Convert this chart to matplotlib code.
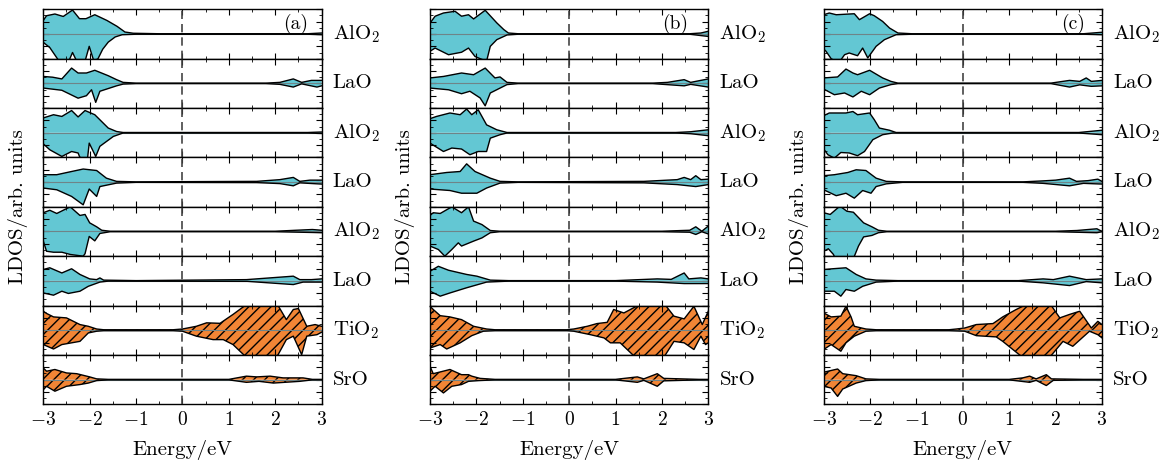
import matplotlib
matplotlib.use("Agg")
import matplotlib.pyplot as plt
from matplotlib.ticker import MultipleLocator

plt.rcParams["font.family"] = "serif"
plt.rcParams["font.serif"] = ["cmr10"]
plt.rcParams["mathtext.fontset"] = "cm"
plt.rcParams["axes.formatter.use_mathtext"] = True
plt.rcParams["hatch.linewidth"] = 1.0

# ---- layer labels (top -> bottom) and panel tags -------------------------
LAYERS = ["AlO$_2$", "LaO", "AlO$_2$", "LaO", "AlO$_2$", "LaO", "TiO$_2$", "SrO"]
PANELS = ["(a)", "(b)", "(c)"]

# ---- LDOS curves: (energy eV, value), spin up and spin down (magnitude) --
# panel (a)
a1_up = [(-3.0, 0.55), (-2.93, 0.74), (-2.75, 0.81), (-2.57, 0.71), (-2.37, 0.97), (-2.22, 0.62), (-2.08, 0.62), (-1.89, 0.78), (-1.63, 0.55), (-1.41, 0.31), (-1.24, 0.08), (-1.06, 0.03), (-0.5, 0.01), (2.7, 0.01), (3.0, 0.04)]
a1_dn = [(-3.0, 0.34), (-2.86, 0.55), (-2.66, 1.1), (-2.45, 1.1), (-2.37, 0.75), (-2.28, 1.1), (-2.1, 1.1), (-2.01, 0.5), (-1.91, 1.1), (-1.82, 1.0), (-1.72, 0.62), (-1.6, 0.33), (-1.45, 0.12), (-1.3, 0.03), (-1.0, 0.01), (2.7, 0.01), (3.0, 0.03)]
a2_up = [(-3.0, 0.28), (-2.8, 0.25), (-2.6, 0.18), (-2.39, 0.62), (-2.25, 0.42), (-2.07, 0.42), (-1.89, 0.53), (-1.6, 0.31), (-1.42, 0.15), (-1.28, 0.04), (-1.0, 0.01), (1.8, 0.01), (2.1, 0.04), (2.39, 0.18), (2.57, 0.04), (2.78, 0.12), (3.0, 0.12)]
a2_dn = [(-3.0, 0.19), (-2.6, 0.28), (-2.25, 0.6), (-2.07, 0.5), (-1.96, 0.26), (-1.87, 0.77), (-1.78, 0.32), (-1.42, 0.1), (-1.28, 0.03), (-1.0, 0.01), (1.8, 0.01), (2.1, 0.04), (2.39, 0.15), (2.57, 0.02), (2.9, 0.15), (3.0, 0.1)]
a3_up = [(-3.0, 0.6), (-2.78, 0.73), (-2.6, 0.66), (-2.39, 0.9), (-2.25, 0.64), (-2.1, 0.9), (-1.89, 0.73), (-1.6, 0.19), (-1.42, 0.05), (-1.28, 0.01), (2.7, 0.01), (3.0, 0.03)]
a3_dn = [(-3.0, 0.45), (-2.86, 0.69), (-2.6, 0.96), (-2.39, 0.76), (-2.25, 0.82), (-2.22, 0.96), (-2.17, 1.1), (-2.05, 1.1), (-2.01, 0.42), (-1.87, 0.96), (-1.78, 0.55), (-1.49, 0.15), (-1.28, 0.01), (2.7, 0.01), (3.0, 0.03)]
a4_up = [(-3.0, 0.3), (-2.71, 0.3), (-2.39, 0.43), (-2.14, 0.53), (-1.85, 0.47), (-1.64, 0.16), (-1.42, 0.03), (-1.0, 0.01), (1.6, 0.03), (2.1, 0.1), (2.39, 0.19), (2.53, 0.03), (2.75, 0.08), (3.0, 0.08)]
a4_dn = [(-3.0, 0.24), (-2.71, 0.31), (-2.39, 0.58), (-2.14, 0.92), (-2.01, 0.28), (-1.85, 0.58), (-1.78, 0.18), (-1.42, 0.04), (-1.0, 0.01), (1.6, 0.02), (2.1, 0.06), (2.39, 0.15), (2.53, 0.03), (3.0, 0.08)]
a5_up = [(-3.0, 0.76), (-2.86, 0.86), (-2.71, 0.73), (-2.42, 1.0), (-2.21, 0.65), (-2.1, 0.69), (-2.0, 0.35), (-1.85, 0.19), (-1.74, 0.05), (-1.56, 0.01), (2.0, 0.01), (2.45, 0.05), (2.8, 0.08), (3.0, 0.05)]
a5_dn = [(-3.0, 0.39), (-2.93, 0.8), (-2.78, 0.84), (-2.6, 0.84), (-2.42, 0.93), (-2.14, 1.0), (-2.1, 0.9), (-2.01, 0.2), (-1.89, 0.38), (-1.78, 0.08), (-1.56, 0.01), (2.0, 0.01), (2.8, 0.04), (3.0, 0.05)]
a6_up = [(-3.0, 0.46), (-2.86, 0.53), (-2.6, 0.32), (-2.39, 0.49), (-2.21, 0.26), (-2.0, 0.08), (-1.85, 0.05), (-1.78, 0.12), (-1.7, 0.03), (-1.0, 0.01), (1.38, 0.05), (2.39, 0.19), (2.53, 0.05), (2.78, 0.05), (3.0, 0.08)]
a6_dn = [(-3.0, 0.49), (-2.78, 0.58), (-2.6, 0.42), (-2.46, 0.51), (-2.21, 0.42), (-2.03, 0.22), (-1.78, 0.05), (-1.6, 0.01), (1.4, 0.02), (2.39, 0.15), (2.6, 0.05), (3.0, 0.05)]
a7_up = [(-3.0, 0.77), (-2.93, 0.68), (-2.78, 0.54), (-2.5, 0.5), (-2.21, 0.23), (-2.03, 0.16), (-1.85, 0.05), (-1.7, 0.02), (-0.2, 0.02), (0.0, 0.05), (0.3, 0.16), (0.52, 0.3), (0.81, 0.28), (1.09, 0.64), (1.35, 1.0), (1.6, 1.1), (2.03, 1.1), (2.24, 0.43), (2.39, 0.84), (2.5, 0.88), (2.68, 0.16), (2.86, 0.23), (3.0, 0.16)]
a7_dn = [(-3.0, 0.58), (-2.78, 0.76), (-2.6, 0.58), (-2.21, 0.45), (-2.03, 0.11), (-1.85, 0.04), (-1.7, 0.02), (-0.2, 0.02), (0.0, 0.04), (0.3, 0.24), (0.66, 0.38), (0.88, 0.38), (1.09, 0.58), (1.38, 1.1), (2.03, 1.1), (2.24, 0.38), (2.39, 0.24), (2.57, 0.99), (2.68, 0.24), (2.9, 0.18), (3.0, 0.08)]
a8_up = [(-3.0, 0.47), (-2.93, 0.34), (-2.75, 0.41), (-2.5, 0.27), (-2.28, 0.24), (-2.0, 0.11), (-1.85, 0.03), (-1.6, 0.01), (1.0, 0.01), (1.38, 0.14), (1.6, 0.11), (1.89, 0.14), (2.17, 0.07), (2.6, 0.07), (2.8, 0.01), (3.0, 0.01)]
a8_dn = [(-3.0, 0.41), (-2.93, 0.27), (-2.75, 0.47), (-2.5, 0.27), (-2.21, 0.2), (-2.03, 0.14), (-1.85, 0.04), (-1.6, 0.01), (1.0, 0.01), (1.38, 0.11), (1.65, 0.07), (1.96, 0.14), (2.53, 0.07), (2.8, 0.01), (3.0, 0.01)]

# panel (b)
b1_up = [(-3.0, 0.44), (-2.89, 0.72), (-2.71, 0.85), (-2.46, 0.92), (-2.32, 0.72), (-2.17, 0.78), (-2.06, 0.61), (-1.81, 0.96), (-1.56, 0.45), (-1.41, 0.18), (-1.31, 0.04), (-1.1, 0.01), (2.6, 0.01), (2.84, 0.04), (3.0, 0.11)]
b1_dn = [(-3.0, 0.7), (-2.89, 0.57), (-2.6, 0.84), (-2.32, 0.74), (-2.17, 0.57), (-2.03, 0.91), (-1.92, 1.0), (-1.78, 1.1), (-1.7, 0.5), (-1.56, 0.23), (-1.34, 0.04), (-1.1, 0.01), (2.6, 0.01), (3.0, 0.1)]
b2_up = [(-3.0, 0.22), (-2.71, 0.28), (-2.32, 0.42), (-2.06, 0.35), (-1.81, 0.62), (-1.6, 0.22), (-1.49, 0.26), (-1.34, 0.04), (-1.1, 0.01), (1.8, 0.01), (2.12, 0.04), (2.48, 0.15), (2.62, 0.04), (3.0, 0.18)]
b2_dn = [(-3.0, 0.19), (-2.6, 0.26), (-2.32, 0.42), (-2.14, 0.32), (-1.92, 0.59), (-1.81, 0.91), (-1.7, 0.39), (-1.34, 0.05), (-1.1, 0.01), (1.8, 0.01), (2.48, 0.1), (2.62, 0.04), (3.0, 0.15)]
b3_up = [(-3.0, 0.57), (-2.86, 0.66), (-2.57, 0.8), (-2.35, 0.73), (-2.21, 0.96), (-2.1, 0.73), (-1.96, 0.93), (-1.78, 0.32), (-1.56, 0.12), (-1.34, 0.01), (2.3, 0.01), (2.62, 0.04), (3.0, 0.12)]
b3_dn = [(-3.0, 0.42), (-2.71, 0.76), (-2.53, 0.62), (-2.32, 0.66), (-2.14, 0.89), (-1.96, 0.76), (-1.78, 0.76), (-1.7, 0.22), (-1.49, 0.08), (-1.34, 0.01), (2.3, 0.01), (2.62, 0.04), (3.0, 0.12)]
b4_up = [(-3.0, 0.3), (-2.64, 0.39), (-2.35, 0.43), (-2.21, 0.74), (-2.03, 0.43), (-1.7, 0.16), (-1.49, 0.03), (-1.1, 0.01), (1.61, 0.03), (2.33, 0.1), (2.48, 0.19), (2.62, 0.1), (2.73, 0.26), (2.84, 0.1), (3.0, 0.12)]
b4_dn = [(-3.0, 0.28), (-2.57, 0.34), (-2.32, 0.45), (-1.99, 0.45), (-1.78, 0.24), (-1.49, 0.04), (-1.1, 0.01), (1.61, 0.03), (2.33, 0.1), (2.73, 0.18), (3.0, 0.1)]
b5_up = [(-3.0, 0.65), (-2.93, 0.76), (-2.78, 0.73), (-2.53, 1.0), (-2.32, 0.76), (-2.17, 1.0), (-2.06, 0.42), (-1.88, 0.28), (-1.7, 0.04), (-1.5, 0.01), (2.0, 0.01), (2.44, 0.04), (2.6, 0.05), (2.73, 0.19), (2.86, 0.01), (3.0, 0.22)]
b5_dn = [(-3.0, 0.59), (-2.82, 0.73), (-2.68, 1.0), (-2.53, 0.73), (-2.39, 0.46), (-2.32, 0.59), (-2.06, 0.39), (-1.88, 0.26), (-1.7, 0.05), (-1.5, 0.01), (2.0, 0.01), (2.6, 0.03), (2.73, 0.12), (2.86, 0.01), (3.0, 0.1)]
b6_up = [(-3.0, 0.39), (-2.82, 0.59), (-2.6, 0.43), (-2.21, 0.26), (-1.99, 0.19), (-1.7, 0.03), (-1.3, 0.01), (1.0, 0.01), (1.9, 0.08), (2.2, 0.06), (2.48, 0.32), (2.58, 0.08), (2.84, 0.12), (3.0, 0.08)]
b6_dn = [(-3.0, 0.42), (-2.78, 0.62), (-2.57, 0.49), (-2.21, 0.28), (-1.78, 0.05), (-1.3, 0.01), (1.0, 0.01), (1.9, 0.05), (2.48, 0.11), (3.0, 0.11)]
b7_up = [(-3.0, 0.97), (-2.93, 0.84), (-2.78, 0.59), (-2.57, 0.54), (-2.32, 0.43), (-2.06, 0.16), (-1.78, 0.05), (-1.6, 0.02), (-0.05, 0.02), (0.1, 0.05), (0.39, 0.16), (0.6, 0.27), (0.82, 0.32), (0.96, 0.84), (1.18, 0.7), (1.43, 0.95), (1.61, 1.1), (2.04, 1.1), (2.26, 0.57), (2.48, 0.46), (2.69, 0.97), (2.87, 0.23), (3.0, 0.77)]
b7_dn = [(-3.0, 0.72), (-2.78, 0.58), (-2.64, 0.76), (-2.35, 0.51), (-2.1, 0.22), (-1.85, 0.04), (-1.6, 0.02), (-0.05, 0.02), (0.1, 0.04), (0.46, 0.18), (0.75, 0.31), (0.89, 0.51), (1.1, 0.51), (1.43, 1.1), (2.04, 1.1), (2.26, 0.45), (2.48, 0.51), (2.69, 0.78), (2.84, 0.24), (2.94, 0.58), (3.0, 0.51)]
b8_up = [(-3.0, 0.54), (-2.93, 0.24), (-2.57, 0.41), (-2.32, 0.2), (-2.17, 0.2), (-2.1, 0.14), (-1.92, 0.05), (-1.6, 0.01), (1.0, 0.01), (1.47, 0.11), (1.61, 0.03), (1.9, 0.24), (2.04, 0.05), (2.8, 0.01), (3.0, 0.01)]
b8_dn = [(-3.0, 0.47), (-2.89, 0.27), (-2.71, 0.54), (-2.53, 0.27), (-2.32, 0.2), (-2.17, 0.07), (-1.95, 0.04), (-1.6, 0.01), (1.0, 0.01), (1.47, 0.11), (1.61, 0.03), (1.9, 0.27), (2.04, 0.05), (2.8, 0.01), (3.0, 0.01)]

# panel (c)
c1_up = [(-3.0, 0.78), (-2.88, 0.85), (-2.73, 0.78), (-2.34, 0.82), (-2.23, 0.58), (-2.01, 0.82), (-1.91, 0.74), (-1.73, 0.51), (-1.58, 0.24), (-1.4, 0.04), (-1.1, 0.01), (2.6, 0.01), (3.0, 0.07)]
c1_dn = [(-3.0, 0.61), (-2.95, 0.7), (-2.84, 1.0), (-2.75, 1.1), (-2.63, 1.05), (-2.55, 0.84), (-2.45, 0.77), (-2.27, 0.88), (-2.16, 0.57), (-2.05, 0.97), (-1.87, 0.5), (-1.69, 0.23), (-1.44, 0.03), (-1.1, 0.01), (2.6, 0.01), (3.0, 0.03)]
c2_up = [(-3.0, 0.22), (-2.7, 0.26), (-2.52, 0.58), (-2.37, 0.42), (-2.27, 0.35), (-2.01, 0.53), (-1.73, 0.22), (-1.55, 0.08), (-1.4, 0.01), (1.9, 0.01), (2.3, 0.12), (2.52, 0.08), (2.66, 0.22), (2.77, 0.08), (3.0, 0.12)]
c2_dn = [(-3.0, 0.23), (-2.77, 0.46), (-2.55, 0.39), (-2.37, 0.55), (-2.19, 0.32), (-2.01, 0.46), (-1.8, 0.19), (-1.55, 0.05), (-1.4, 0.01), (1.9, 0.01), (2.3, 0.15), (2.52, 0.06), (2.77, 0.12), (3.0, 0.1)]
c3_up = [(-3.0, 0.69), (-2.88, 0.8), (-2.52, 0.8), (-2.37, 0.86), (-2.27, 0.73), (-2.01, 0.8), (-1.91, 0.53), (-1.8, 0.19), (-1.58, 0.1), (-1.44, 0.01), (2.5, 0.01), (3.0, 0.1)]
c3_dn = [(-3.0, 0.66), (-2.91, 0.89), (-2.77, 1.03), (-2.63, 0.8), (-2.45, 0.82), (-2.27, 0.93), (-2.12, 0.76), (-1.94, 0.28), (-1.73, 0.08), (-1.51, 0.01), (2.5, 0.01), (3.0, 0.08)]
c4_up = [(-3.0, 0.26), (-2.77, 0.3), (-2.48, 0.39), (-2.3, 0.5), (-2.09, 0.47), (-1.87, 0.16), (-1.65, 0.03), (-1.3, 0.01), (1.3, 0.01), (1.73, 0.05), (2.0, 0.08), (2.3, 0.16), (2.45, 0.03), (2.7, 0.06), (2.91, 0.12), (3.0, 0.03)]
c4_dn = [(-3.0, 0.31), (-2.73, 0.55), (-2.52, 0.45), (-2.34, 0.65), (-2.16, 0.34), (-1.98, 0.45), (-1.87, 0.18), (-1.65, 0.07), (-1.3, 0.01), (1.3, 0.01), (1.73, 0.05), (2.3, 0.15), (2.6, 0.05), (3.0, 0.08)]
c5_up = [(-3.0, 0.76), (-2.86, 0.69), (-2.65, 1.03), (-2.5, 0.82), (-2.36, 0.78), (-2.14, 0.35), (-1.96, 0.19), (-1.82, 0.05), (-1.64, 0.01), (2.0, 0.01), (2.46, 0.04), (2.89, 0.11), (2.95, 0.05), (3.0, 0.01)]
c5_dn = [(-3.0, 0.8), (-2.9, 0.7), (-2.79, 0.93), (-2.75, 1.1), (-2.36, 1.1), (-2.25, 0.59), (-2.14, 0.22), (-1.96, 0.16), (-1.82, 0.05), (-1.64, 0.01), (2.0, 0.01), (2.89, 0.05), (3.0, 0.01)]
c6_up = [(-3.0, 0.46), (-2.81, 0.49), (-2.52, 0.53), (-2.3, 0.26), (-2.09, 0.08), (-1.87, 0.03), (-1.4, 0.01), (1.2, 0.01), (1.73, 0.08), (1.95, 0.05), (2.3, 0.19), (2.66, 0.05), (3.0, 0.08)]
c6_dn = [(-3.0, 0.42), (-2.77, 0.42), (-2.63, 0.62), (-2.52, 0.35), (-2.34, 0.42), (-2.16, 0.22), (-1.87, 0.05), (-1.4, 0.01), (1.2, 0.01), (1.73, 0.08), (2.3, 0.19), (2.66, 0.03), (3.0, 0.08)]
c7_up = [(-3.0, 0.7), (-2.84, 0.54), (-2.63, 0.57), (-2.52, 0.97), (-2.41, 0.54), (-2.34, 0.16), (-2.09, 0.05), (-1.87, 0.02), (-0.3, 0.02), (-0.14, 0.05), (0.04, 0.09), (0.29, 0.23), (0.65, 0.27), (0.86, 0.54), (1.15, 0.84), (1.29, 0.97), (1.51, 1.1), (1.87, 1.1), (2.09, 0.5), (2.3, 0.64), (2.52, 0.77), (2.77, 0.09), (2.91, 0.36), (3.0, 0.23)]
c7_dn = [(-3.0, 0.78), (-2.84, 0.58), (-2.63, 0.85), (-2.52, 0.51), (-2.34, 0.24), (-2.09, 0.04), (-1.87, 0.02), (-0.3, 0.02), (0.04, 0.04), (0.29, 0.22), (0.72, 0.27), (0.86, 0.45), (1.29, 1.1), (1.87, 1.1), (2.16, 0.45), (2.37, 0.65), (2.73, 0.04), (2.91, 0.18), (3.0, 0.31)]
c8_up = [(-3.0, 0.3), (-2.7, 0.43), (-2.59, 0.24), (-2.3, 0.16), (-2.09, 0.03), (-1.8, 0.01), (1.0, 0.01), (1.29, 0.07), (1.44, 0.14), (1.58, 0.03), (1.8, 0.2), (1.91, 0.03), (2.6, 0.01), (3.0, 0.01)]
c8_dn = [(-3.0, 0.27), (-2.84, 0.34), (-2.7, 0.68), (-2.59, 0.38), (-2.3, 0.14), (-2.09, 0.04), (-1.8, 0.01), (1.0, 0.01), (1.44, 0.11), (1.58, 0.03), (1.8, 0.24), (1.95, 0.03), (2.6, 0.01), (3.0, 0.01)]

PANEL_CURVES = [
    [(a1_up, a1_dn), (a2_up, a2_dn), (a3_up, a3_dn), (a4_up, a4_dn),
     (a5_up, a5_dn), (a6_up, a6_dn), (a7_up, a7_dn), (a8_up, a8_dn)],
    [(b1_up, b1_dn), (b2_up, b2_dn), (b3_up, b3_dn), (b4_up, b4_dn),
     (b5_up, b5_dn), (b6_up, b6_dn), (b7_up, b7_dn), (b8_up, b8_dn)],
    [(c1_up, c1_dn), (c2_up, c2_dn), (c3_up, c3_dn), (c4_up, c4_dn),
     (c5_up, c5_dn), (c6_up, c6_dn), (c7_up, c7_dn), (c8_up, c8_dn)],
]

CYAN = "#63C7D3"
ORANGE = "#F28535"
ZERO = "#6f8488"

W, H = 1166, 461
fig = plt.figure(figsize=(W / 100, H / 100), dpi=100)

lefts_px = [43.3, 430.0, 823.7]
width_px = 278.3
top_px, bot_px = 9.3, 404.3
row_h = (bot_px - top_px) / 8 / H
tag_x = [0.905, 0.88, 0.897]


def draw_row(ax, up, dn, oxide):
    eu = [p[0] for p in up]; vu = [p[1] for p in up]
    ed = [p[0] for p in dn]; vd = [-p[1] for p in dn]
    if oxide:
        kw = dict(facecolor=ORANGE, edgecolor="k", hatch="///", linewidth=0)
    else:
        kw = dict(facecolor=CYAN, edgecolor="none", linewidth=0)
    ax.fill_between(eu, 0, vu, zorder=1, **kw)
    ax.fill_between(ed, vd, 0, zorder=1, **kw)
    ax.axhline(0, color=ZERO, lw=0.8, zorder=2)
    ax.plot(eu, vu, color="k", lw=1.0, zorder=3)
    ax.plot(ed, vd, color="k", lw=1.0, zorder=3)


for p, rows in enumerate(PANEL_CURVES):
    l = lefts_px[p] / W
    w = width_px / W
    for i, (up, dn) in enumerate(rows):
        b = 1 - top_px / H - (i + 1) * row_h
        ax = fig.add_axes([l, b, w, row_h])
        draw_row(ax, up, dn, oxide=(i >= 6))
        ax.axvline(0, color="#444444", lw=1.2, ls=(0, (5, 3)), zorder=4)
        ax.set_xlim(-3, 3)
        ax.set_ylim(-1, 1)
        ax.xaxis.set_major_locator(MultipleLocator(1))
        ax.xaxis.set_minor_locator(MultipleLocator(0.5))
        ax.yaxis.set_major_locator(MultipleLocator(0.5))
        ax.yaxis.set_minor_locator(MultipleLocator(0.25))
        ax.tick_params(which="both", direction="in", top=True, right=True,
                       labelleft=False, labelbottom=(i == 7),
                       labelsize=14, pad=5)
        ax.tick_params(which="major", length=4, width=0.8)
        ax.tick_params(which="minor", length=2, width=0.6)
        for s in ax.spines.values():
            s.set_linewidth(1.0)
        ax.annotate(LAYERS[i], xy=(1, 0.5), xycoords="axes fraction",
                    xytext=(8, 0), textcoords="offset points",
                    ha="left", va="center", fontsize=15)
        if i == 0:
            ax.text(tag_x[p], 0.70, PANELS[p], transform=ax.transAxes,
                    ha="center", va="center", fontsize=14)
        if i == 7:
            ax.set_xlabel("Energy/eV", fontsize=15, labelpad=8)
    fig.text((lefts_px[p] - 25) / W, 1 - (top_px + bot_px) / 2 / H,
             "LDOS/arb. units", rotation=90, ha="center", va="center",
             fontsize=15)

fig.savefig("out.png", dpi=100)
